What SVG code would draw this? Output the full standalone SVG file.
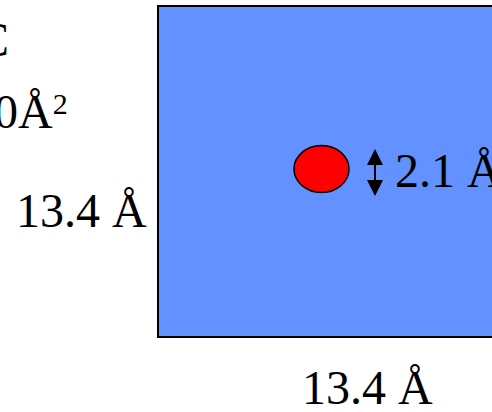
<svg xmlns="http://www.w3.org/2000/svg" width="492" height="412" viewBox="0 0 492 412">
  <style>
    .t { font-family: "Liberation Serif", "Times New Roman", serif; font-size: 48px; fill: #000; }
  </style>
  <defs>
    <marker id="ah" markerUnits="userSpaceOnUse" markerWidth="16" markerHeight="16" viewBox="0 0 16 16" refX="15" refY="8" orient="auto-start-reverse">
      <path d="M0,0 L16,8 L0,16 Z" fill="#000"/>
    </marker>
  </defs>
  <rect width="492" height="412" fill="#fff"/>
  <g id="labels">
    <text class="t" x="-23" y="56">C</text>
    <text class="t" x="-6" y="128">0Å<tspan font-size="30" dy="-14">2</tspan></text>
  </g>
  <g id="pore">
    <rect x="158" y="6" width="340" height="331" fill="#6391FF" stroke="#000" stroke-width="2"/>
  </g>
  <g id="molecule">
    <ellipse cx="321.5" cy="169" rx="27.5" ry="23.5" fill="#FF0000" stroke="#000" stroke-width="1.5"/>
  </g>
  <g id="connectors">
    <line x1="375" y1="164" x2="375" y2="181" stroke="#000" stroke-width="2"/>
    <polygon points="375,149 367,165 383,165" fill="#000"/>
    <polygon points="375,196 367,180 383,180" fill="#000"/>
  </g>
  <g id="dims">
    <text class="t" x="395" y="187">2.1 Å</text>
    <text class="t" x="16" y="227">13.4 Å</text>
    <text class="t" x="302" y="404">13.4 Å</text>
  </g>
</svg>
